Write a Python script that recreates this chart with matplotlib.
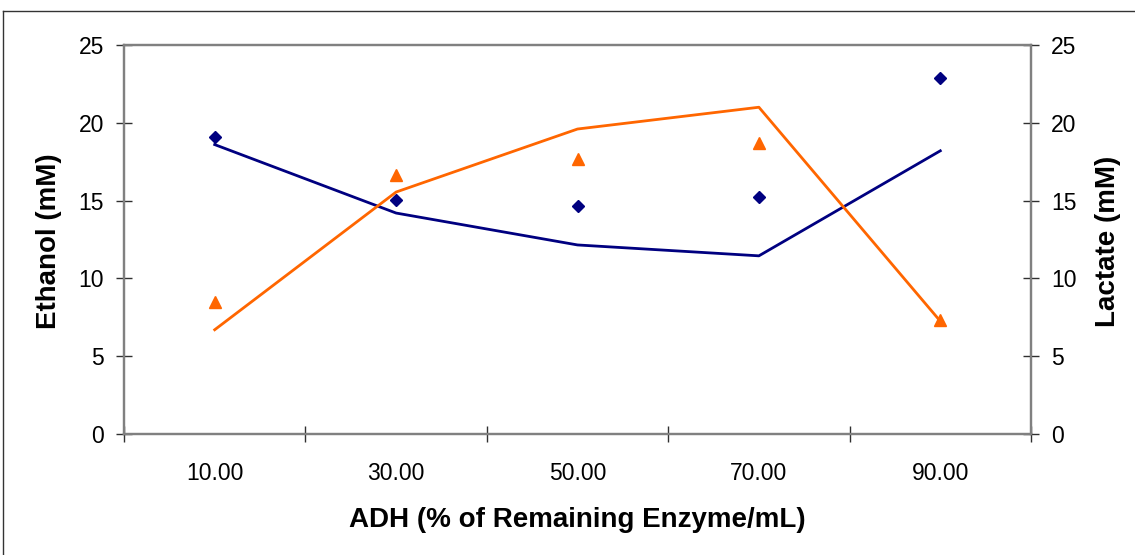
import matplotlib
matplotlib.use("Agg")
import matplotlib.pyplot as plt
from matplotlib.lines import Line2D

plt.rcParams["font.family"] = ["Liberation Sans", "DejaVu Sans"]

# ADH activity categories (% of remaining enzyme per mL)
categories = ["10.00", "30.00", "50.00", "70.00", "90.00"]

# Ethanol (mM): measured points and fitted curve
ethanol_measured = [19.1, 15.05, 14.65, 15.25, 22.9]
ethanol_fit = [18.6, 14.2, 12.15, 11.45, 18.2]

# Lactate (mM): measured points and fitted curve
lactate_measured = [8.5, 16.65, 17.65, 18.7, 7.35]
lactate_fit = [6.7, 15.55, 19.6, 21.0, 7.25]

y_ticks = [0, 5, 10, 15, 20, 25]

W, H = 1135, 555
fig = plt.figure(figsize=(W / 100, H / 100), dpi=100)
fig.patch.set_facecolor("white")

left, right, bottom, top = 124, 1031, 434, 45
ax = fig.add_axes([left / W, 1 - bottom / H, (right - left) / W, (bottom - top) / H])
ax2 = ax.twinx()

navy = "#000080"
orange = "#FF6600"
spine_gray = "#808080"

x = list(range(len(categories)))

ax.plot(x, ethanol_fit, color=navy, lw=2.0, zorder=3)
ax.plot(x, ethanol_measured, linestyle="none", marker="D", ms=6.3,
        color=navy, zorder=4)
ax2.plot(x, lactate_fit, color=orange, lw=2.0, zorder=3)
ax2.plot(x, lactate_measured, linestyle="none", marker="^", ms=8.5,
         color=orange, zorder=4)

for a in (ax, ax2):
    a.set_xlim(-0.5, len(categories) - 0.5)
    a.set_ylim(0, 25)
    a.set_yticks(y_ticks)
    a.set_yticklabels([str(v) for v in y_ticks])
    for s in a.spines.values():
        s.set_color(spine_gray)
        s.set_linewidth(1.6)
    a.tick_params(axis="y", direction="inout", length=11.5, width=1.0,
                  color="#303030", labelsize=16.5, pad=8.5)

# Category boundaries carry the tick marks; labels sit at category centres
boundaries = [i - 0.5 for i in range(len(categories) + 1)]
ax.set_xticks(boundaries)
ax.set_xticklabels([""] * len(boundaries))
ax.set_xticks(x, minor=True)
ax.set_xticklabels(categories, minor=True)
ax.tick_params(axis="x", which="major", direction="inout", length=11.5,
               width=1.0, color="#303030")
ax.tick_params(axis="x", which="minor", length=0, labelsize=16.5, pad=20.5)

ax.set_facecolor("white")

label_font = dict(fontsize=20, fontweight="bold", color="black")
fig.text(577 / W, 1 - 527 / H, "ADH (% of Remaining Enzyme/mL)",
         ha="center", va="baseline", **label_font)
fig.text(56.5 / W, 1 - 241 / H, "Ethanol (mM)", rotation=90,
         rotation_mode="anchor", ha="center", va="baseline", **label_font)
fig.text(1115 / W, 1 - 241 / H, "Lactate (mM)", rotation=90,
         rotation_mode="anchor", ha="center", va="baseline", **label_font)

# Chart frame
fig.add_artist(Line2D([3 / W, 1], [1 - 11 / H, 1 - 11 / H],
                      transform=fig.transFigure, color="#333333", lw=1.0))
fig.add_artist(Line2D([3 / W, 3 / W], [0, 1 - 11 / H],
                      transform=fig.transFigure, color="#333333", lw=1.0))

fig.savefig("out.png", dpi=100, facecolor="white")
